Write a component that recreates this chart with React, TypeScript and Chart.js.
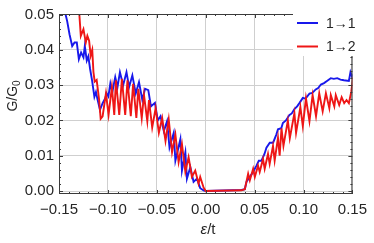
import React, { useEffect, useRef } from "react";
import { Chart, registerables } from "chart.js";

Chart.register(...registerables);

// ---- data ----
const seriesLabels = ["1\u21921", "1\u21922"];

const blueX = [
  -0.1432, -0.1416, -0.1392, -0.1365, -0.1341, -0.1318, -0.1297, -0.1274, -0.125, -0.1236,
  -0.1216, -0.12, -0.1182, -0.1162, -0.1138, -0.1122, -0.1108, -0.1081, -0.1054, -0.1027,
  -0.1014, -0.0995, -0.0975, -0.0955, -0.0925, -0.0902, -0.0877, -0.0844, -0.081, -0.0783,
  -0.075, -0.0715, -0.0682, -0.0648, -0.062, -0.0587, -0.056, -0.0519, -0.049, -0.0462,
  -0.0428, -0.0395, -0.037, -0.0327, -0.031, -0.0259, -0.0243, -0.0208, -0.0192, -0.0157,
  -0.0124, -0.009, -0.0056, -0.0022, 0.0, 0.0366, 0.04, 0.0417, 0.0451, 0.0485,
  0.0519, 0.0543, 0.057, 0.0601, 0.0621, 0.0655, 0.0689, 0.0722, 0.0739, 0.0773,
  0.0789, 0.082, 0.0857, 0.088, 0.0907, 0.0935, 0.096, 0.0993, 0.102, 0.1061,
  0.109, 0.1125, 0.115, 0.1178, 0.121, 0.124, 0.1279, 0.131, 0.1345, 0.1378,
  0.1414, 0.1464, 0.148, 0.1495, 0.1507,
];
const blueY = [
  0.05, 0.0481, 0.0444, 0.0411, 0.0421, 0.0421, 0.0374, 0.0393, 0.0379, 0.0411,
  0.037, 0.0382, 0.0346, 0.0314, 0.0267, 0.0281, 0.0262, 0.023, 0.0249, 0.0263,
  0.0277, 0.0268, 0.0305, 0.028, 0.0323, 0.0295, 0.0337, 0.03, 0.0337, 0.0295,
  0.0328, 0.0277, 0.0309, 0.0258, 0.029, 0.0286, 0.024, 0.025, 0.02, 0.0212,
  0.017, 0.0198, 0.0123, 0.0165, 0.0086, 0.0147, 0.0058, 0.011, 0.0035, 0.0068,
  0.0026, 0.0035, 0.0008, 0.0002, 0.0, 0.0003, 0.0005, 0.0026, 0.004, 0.0054,
  0.0072, 0.0086, 0.0086, 0.0105, 0.0123, 0.0137, 0.0137, 0.016, 0.0175, 0.0178,
  0.0193, 0.02, 0.0216, 0.022, 0.0232, 0.024, 0.025, 0.0264, 0.0262, 0.0276,
  0.0278, 0.0288, 0.0292, 0.0302, 0.0306, 0.0312, 0.032, 0.0318, 0.032, 0.0316,
  0.0314, 0.0312, 0.0337, 0.0325, 0.033,
];

const redX = [
  -0.1293, -0.1277, -0.125, -0.1226, -0.121, -0.1192, -0.1176, -0.116, -0.1148, -0.1135,
  -0.1115, -0.109, -0.1074, -0.1054, -0.102, -0.0993, -0.0959, -0.0935, -0.0918, -0.0884,
  -0.0857, -0.0823, -0.08, -0.0766, -0.0742, -0.0709, -0.0689, -0.0654, -0.0631, -0.0597,
  -0.058, -0.0547, -0.0512, -0.0479, -0.0445, -0.0411, -0.0378, -0.0344, -0.031, -0.0277,
  -0.0243, -0.0208, -0.0175, -0.0141, -0.0107, -0.0073, -0.0056, -0.0022, 0.0, 0.0366,
  0.04, 0.0434, 0.0451, 0.0485, 0.0502, 0.0535, 0.0552, 0.0586, 0.0603, 0.0637,
  0.0654, 0.0688, 0.0705, 0.0739, 0.0756, 0.0775, 0.0795, 0.084, 0.086, 0.0907,
  0.0924, 0.0968, 0.0993, 0.1025, 0.1061, 0.1093, 0.1128, 0.1161, 0.1196, 0.1229,
  0.1264, 0.1279, 0.1315, 0.133, 0.1365, 0.139, 0.1416, 0.144, 0.1464, 0.1488,
  0.1507,
];
const redY = [
  0.0505, 0.044, 0.0459, 0.0421, 0.044, 0.0426, 0.0384, 0.04, 0.0338, 0.031,
  0.0315, 0.0259, 0.0205, 0.0212, 0.0277, 0.0216, 0.0295, 0.0216, 0.0314, 0.0216,
  0.0318, 0.0216, 0.0314, 0.0212, 0.0304, 0.0207, 0.029, 0.0207, 0.0272, 0.0198,
  0.0258, 0.018, 0.0235, 0.0165, 0.0207, 0.0142, 0.0203, 0.011, 0.016, 0.0082,
  0.0133, 0.0054, 0.0096, 0.004, 0.0058, 0.0021, 0.004, 0.001, 0.0, 0.0002,
  0.0005, 0.0049, 0.003, 0.0063, 0.004, 0.0072, 0.0054, 0.0091, 0.0063, 0.0105,
  0.0077, 0.0128, 0.0086, 0.0151, 0.01, 0.0178, 0.0128, 0.02, 0.015, 0.0221,
  0.0165, 0.0238, 0.0184, 0.0263, 0.0198, 0.0272, 0.0212, 0.0277, 0.0226, 0.0277,
  0.0235, 0.0272, 0.024, 0.0272, 0.0244, 0.0266, 0.0249, 0.0258, 0.0249, 0.0281,
  0.0323,
];

const xTickValues = [-0.15, -0.1, -0.05, 0, 0.05, 0.1, 0.15];
const yTickValues = [0, 0.01, 0.02, 0.03, 0.04, 0.05];
const xTitle = ["\u03b5", "/t"];
const yTitle = ["G/G", "0"];

const BLUE = "rgb(24,24,235)";
const RED = "rgb(238,22,22)";
const FONT = "'Liberation Sans', Arial, sans-serif";
const TEXT = "#262626";

const fmt = (v: number) => {
  const s = Math.abs(v).toFixed(2);
  return v < -1e-9 ? "\u2212" + s : s;
};

const overlay = {
  id: "overlay",
  afterDraw(chart: any) {
    const { ctx, chartArea: a, scales } = chart;
    const xs = scales.x;
    const ys = scales.y;
    ctx.save();
    // frame
    ctx.strokeStyle = "#3a3a3a";
    ctx.lineWidth = 1;
    ctx.strokeRect(a.left + 0.5, a.top + 0.5, a.right - a.left - 1, a.bottom - a.top - 1);
    // inward ticks
    ctx.beginPath();
    for (let i = -15; i <= 15; i++) {
      const v = i / 100;
      const px = Math.round(xs.getPixelForValue(v)) + 0.5;
      const len = i % 5 === 0 ? 4 : 2;
      ctx.moveTo(px, a.bottom);
      ctx.lineTo(px, a.bottom - len);
      ctx.moveTo(px, a.top);
      ctx.lineTo(px, a.top + len);
    }
    for (let i = 0; i <= 25; i++) {
      const v = i / 500;
      const py = Math.round(ys.getPixelForValue(v)) + 0.5;
      const len = i % 5 === 0 ? 4 : 2;
      ctx.moveTo(a.left, py);
      ctx.lineTo(a.left + len, py);
      ctx.moveTo(a.right, py);
      ctx.lineTo(a.right - len, py);
    }
    ctx.stroke();

    // legend
    const lx = 297;
    ctx.fillStyle = "#ffffff";
    ctx.fillRect(293, 14, 60, 42);
    const rows = [
      { label: seriesLabels[0], color: BLUE, y: 23 },
      { label: seriesLabels[1], color: RED, y: 46.5 },
    ];
    rows.forEach((r) => {
      ctx.strokeStyle = r.color;
      ctx.lineWidth = 2;
      ctx.beginPath();
      ctx.moveTo(lx, r.y);
      ctx.lineTo(lx + 21, r.y);
      ctx.stroke();
      ctx.fillStyle = TEXT;
      ctx.font = `14px ${FONT}`;
      ctx.textBaseline = "middle";
      ctx.textAlign = "left";
      ctx.fillText(r.label, lx + 29, r.y + 1);
    });

    // x title
    ctx.fillStyle = TEXT;
    ctx.textBaseline = "alphabetic";
    ctx.font = `italic 15px ${FONT}`;
    const w1 = ctx.measureText(xTitle[0]).width;
    ctx.font = `15px ${FONT}`;
    const w2 = ctx.measureText(xTitle[1]).width;
    const cx = 208 - (w1 + w2) / 2;
    ctx.font = `italic 15px ${FONT}`;
    ctx.textAlign = "left";
    ctx.fillText(xTitle[0], cx, 234);
    ctx.font = `15px ${FONT}`;
    ctx.fillText(xTitle[1], cx + w1, 234);

    // y title
    ctx.save();
    ctx.translate(17, 96);
    ctx.rotate(-Math.PI / 2);
    ctx.font = `14px ${FONT}`;
    const g1 = ctx.measureText(yTitle[0]).width;
    ctx.font = `10px ${FONT}`;
    const g2 = ctx.measureText(yTitle[1]).width;
    const sx = -(g1 + g2) / 2;
    ctx.font = `14px ${FONT}`;
    ctx.fillText(yTitle[0], sx, 0);
    ctx.font = `10px ${FONT}`;
    ctx.fillText(yTitle[1], sx + g1, 3);
    ctx.restore();

    ctx.restore();
  },
};

export default function App() {
  const ref = useRef<HTMLCanvasElement | null>(null);

  useEffect(() => {
    document.body.style.margin = "0";
    const canvas = ref.current;
    if (!canvas) return;
    const blueData = blueX.map((x, i) => ({ x, y: blueY[i] }));
    const redData = redX.map((x, i) => ({ x, y: redY[i] }));
    const chart = new Chart(canvas, {
      type: "scatter",
      data: {
        datasets: [
          {
            label: seriesLabels[0],
            data: blueData,
            showLine: true,
            borderColor: BLUE,
            backgroundColor: BLUE,
            borderWidth: 1.9,
            pointRadius: 0,
            tension: 0,
            order: 1,
          },
          {
            label: seriesLabels[1],
            data: redData,
            showLine: true,
            borderColor: RED,
            backgroundColor: RED,
            borderWidth: 1.9,
            pointRadius: 0,
            tension: 0,
            order: 0,
          },
        ],
      },
      options: {
        responsive: false,
        animation: false,
        devicePixelRatio: 1,
        layout: { padding: { top: 11, right: 18, left: 0, bottom: 0 } },
        plugins: {
          legend: { display: false },
          tooltip: { enabled: false },
          title: { display: false },
        },
        scales: {
          x: {
            type: "linear",
            min: -0.15,
            max: 0.15,
            afterFit: (s: any) => {
              s.height = 49;
            },
            afterBuildTicks: (s: any) => {
              s.ticks = xTickValues.map((v) => ({ value: v }));
            },
            ticks: {
              callback: (v: any) => fmt(Number(v)),
              font: { family: FONT, size: 15 },
              color: TEXT,
              maxRotation: 0,
              autoSkip: false,
              padding: 7,
            },
            grid: { color: "#cfcfcf", lineWidth: 1, drawTicks: false },
            border: { display: false },
          },
          y: {
            type: "linear",
            min: -0.00085,
            max: 0.0502,
            afterFit: (s: any) => {
              s.width = 59;
            },
            afterBuildTicks: (s: any) => {
              s.ticks = yTickValues.map((v) => ({ value: v }));
            },
            ticks: {
              callback: (v: any) => fmt(Number(v)),
              font: { family: FONT, size: 15 },
              color: TEXT,
              autoSkip: false,
              padding: 5,
            },
            grid: { color: "#cfcfcf", lineWidth: 1, drawTicks: false },
            border: { display: false },
          },
        },
      },
      plugins: [overlay],
    });
    return () => chart.destroy();
  }, []);

  return (
    <div style={{ width: 374, height: 243 }}>
      <canvas ref={ref} width={374} height={243} style={{ display: "block" }} />
    </div>
  );
}
